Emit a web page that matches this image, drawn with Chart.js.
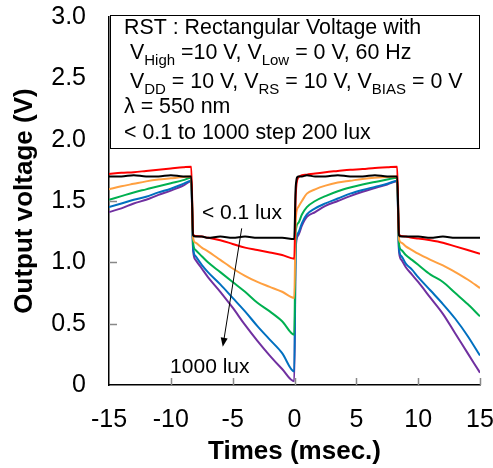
<!DOCTYPE html>
<html>
<head>
<meta charset="utf-8">
<script src="https://cdn.jsdelivr.net/npm/chart.js@4"></script>
<style>
  html, body { margin: 0; padding: 0; background: #fff; }
</style>
</head>
<body>
<canvas id="chart" width="493" height="468"></canvas>
<script>
"use strict";

// time axis (msec.) shared by every curve
const times = [-15, -14, -13, -12, -11, -10, -9, -8.35, -8.2, -8, -7.5, -7, -6, -5, -4, -3, -2, -1, -0.02,
  0.1, 0.3, 0.6, 1, 1.67, 2.5, 3.5, 4.5, 5.5, 6.5, 7.5, 8.3, 8.45, 8.65, 9, 9.5, 10, 11, 12, 13, 14, 15];

// output voltage (V), one list per illuminance
const luxDark = [1.70, 1.70, 1.71, 1.70, 1.70, 1.71, 1.70, 1.70, 1.22, 1.21, 1.21, 1.20, 1.21, 1.20, 1.21, 1.20, 1.20, 1.20, 1.19,
  1.62, 1.70, 1.70, 1.71, 1.70, 1.70, 1.71, 1.70, 1.70, 1.71, 1.70, 1.70, 1.22, 1.21, 1.21, 1.21, 1.21, 1.20, 1.21, 1.20, 1.20, 1.20];
const lux200 = [1.72, 1.73, 1.735, 1.745, 1.755, 1.765, 1.775, 1.78, 1.23, 1.215, 1.21, 1.20, 1.18, 1.15, 1.12, 1.10, 1.08, 1.06, 1.03,
  1.55, 1.69, 1.71, 1.715, 1.725, 1.735, 1.745, 1.755, 1.76, 1.77, 1.775, 1.78, 1.23, 1.215, 1.21, 1.20, 1.195, 1.18, 1.16, 1.13, 1.10, 1.07];
const lux400 = [1.595, 1.62, 1.64, 1.66, 1.675, 1.685, 1.695, 1.70, 1.20, 1.16, 1.12, 1.09, 1.02, 0.95, 0.89, 0.84, 0.80, 0.76, 0.71,
  1.35, 1.45, 1.50, 1.56, 1.595, 1.625, 1.65, 1.665, 1.68, 1.69, 1.695, 1.70, 1.19, 1.16, 1.13, 1.10, 1.07, 1.02, 0.975, 0.92, 0.86, 0.79];
const lux600 = [1.51, 1.54, 1.57, 1.595, 1.62, 1.645, 1.67, 1.69, 1.16, 1.10, 1.05, 1.00, 0.92, 0.84, 0.76, 0.67, 0.60, 0.52, 0.41,
  1.25, 1.32, 1.39, 1.45, 1.50, 1.54, 1.58, 1.61, 1.635, 1.655, 1.675, 1.69, 1.15, 1.10, 1.06, 1.02, 0.98, 0.90, 0.84, 0.75, 0.66, 0.56];
const lux800 = [1.45, 1.48, 1.51, 1.535, 1.57, 1.60, 1.64, 1.665, 1.12, 1.05, 0.98, 0.92, 0.82, 0.71, 0.60, 0.48, 0.37, 0.26, 0.11,
  1.15, 1.24, 1.32, 1.39, 1.44, 1.48, 1.52, 1.56, 1.59, 1.615, 1.64, 1.665, 1.11, 1.05, 0.99, 0.94, 0.88, 0.77, 0.66, 0.54, 0.40, 0.24];
const lux1000 = [1.41, 1.44, 1.48, 1.51, 1.55, 1.585, 1.625, 1.66, 1.10, 1.02, 0.95, 0.88, 0.76, 0.63, 0.49, 0.36, 0.24, 0.13, 0.03,
  1.12, 1.22, 1.30, 1.37, 1.41, 1.46, 1.50, 1.54, 1.575, 1.605, 1.635, 1.66, 1.09, 1.02, 0.96, 0.90, 0.84, 0.71, 0.58, 0.42, 0.26, 0.10];

const seriesList = [luxDark, lux200, lux400, lux600, lux800, lux1000];
const seriesNames = ["< 0.1 lux", "200 lux", "400 lux", "600 lux", "800 lux", "1000 lux"];
const seriesColors = ["#000000", "#ff0000", "#ffa040", "#00b050", "#0070c0", "#7030a0"];

const xTicks = [-15, -10, -5, 0, 5, 10, 15];
const yTicks = [0, 0.5, 1.0, 1.5, 2.0, 2.5, 3.0];

// condition box text: [text, isSubscript]
const noteLines = [
  [["RST : Rectangular Voltage with", 0]],
  [[" V", 0], ["High", 1], [" =10 V, V", 0], ["Low", 1], [" = 0 V, 60 Hz", 0]],
  [[" V", 0], ["DD", 1], [" = 10 V, V", 0], ["RS", 1], [" = 10 V, V", 0], ["BIAS", 1], [" = 0 V", 0]],
  [["λ = 550 nm", 0]],
  [["< 0.1 to 1000 step 200 lux", 0]]
];

// arrow labels in data units
const darkLabel = { text: "< 0.1 lux", x: -7.48, y: 1.40 };
const brightLabel = { text: "1000 lux", x: -10.06, y: 0.147 };
const arrowFrom = { x: -4.27, y: 1.277 };
const arrowTo = { x: -5.80, y: 0.312 };

const FONT = "'Liberation Sans', Arial, sans-serif";

const overlayPlugin = {
  id: "overlay",
  afterDatasetsDraw(chart) {
    const { ctx, chartArea, scales } = chart;
    const xs = scales.x;
    const ys = scales.y;

    // inward grey ticks
    ctx.save();
    ctx.strokeStyle = "#888";
    ctx.lineWidth = 1.5;
    ctx.beginPath();
    xTicks.slice(1).forEach((v) => {
      const px = Math.round(xs.getPixelForValue(v)) + 0.5;
      ctx.moveTo(px, chartArea.bottom);
      ctx.lineTo(px, chartArea.bottom - 7);
    });
    yTicks.slice(1).forEach((v) => {
      const py = Math.round(ys.getPixelForValue(v)) + 0.5;
      ctx.moveTo(chartArea.left, py);
      ctx.lineTo(chartArea.left + 8, py);
    });
    ctx.stroke();
    ctx.restore();

    // condition box
    const boxLeft = chartArea.left + 1;
    const boxTop = chartArea.top - 2;
    const boxRight = chartArea.right;
    const boxBottom = chartArea.top + 132;
    ctx.save();
    ctx.fillStyle = "#fff";
    ctx.fillRect(boxLeft, boxTop, boxRight - boxLeft, boxBottom - boxTop);
    ctx.strokeStyle = "#000";
    ctx.lineWidth = 1;
    ctx.strokeRect(boxLeft + 0.5, boxTop + 0.5, boxRight - boxLeft - 1, boxBottom - boxTop - 1);

    const lineY = [28, 53, 82, 107, 133];
    ctx.fillStyle = "#000";
    ctx.textBaseline = "middle";
    noteLines.forEach((parts, i) => {
      let cx = boxLeft + 14;
      parts.forEach(([txt, sub]) => {
        ctx.font = (sub ? "15px " : "21.4px ") + FONT;
        ctx.fillText(txt, cx, lineY[i] + (sub ? 8 : 0));
        cx += ctx.measureText(txt).width;
      });
    });

    // arrow labels
    ctx.font = "21px " + FONT;
    ctx.fillText(darkLabel.text, xs.getPixelForValue(darkLabel.x), ys.getPixelForValue(darkLabel.y));
    ctx.fillText(brightLabel.text, xs.getPixelForValue(brightLabel.x), ys.getPixelForValue(brightLabel.y));

    const x1 = xs.getPixelForValue(arrowFrom.x);
    const y1 = ys.getPixelForValue(arrowFrom.y);
    const x2 = xs.getPixelForValue(arrowTo.x);
    const y2 = ys.getPixelForValue(arrowTo.y);
    const ang = Math.atan2(y2 - y1, x2 - x1);
    ctx.strokeStyle = "#000";
    ctx.lineWidth = 1;
    ctx.beginPath();
    ctx.moveTo(x1, y1);
    ctx.lineTo(x2 - 6 * Math.cos(ang), y2 - 6 * Math.sin(ang));
    ctx.stroke();
    ctx.beginPath();
    ctx.moveTo(x2, y2);
    ctx.lineTo(x2 - 9 * Math.cos(ang) + 3.5 * Math.sin(ang), y2 - 9 * Math.sin(ang) - 3.5 * Math.cos(ang));
    ctx.lineTo(x2 - 9 * Math.cos(ang) - 3.5 * Math.sin(ang), y2 - 9 * Math.sin(ang) + 3.5 * Math.cos(ang));
    ctx.closePath();
    ctx.fill();
    ctx.restore();
  }
};

const datasets = seriesList.map((values, i) => ({
  label: seriesNames[i],
  data: times.map((t, k) => ({ x: t, y: values[k] })),
  borderColor: seriesColors[i],
  borderWidth: 2,
  pointRadius: 0,
  cubicInterpolationMode: "monotone",
  fill: false
}));

new Chart(document.getElementById("chart"), {
  type: "line",
  data: { datasets },
  plugins: [overlayPlugin],
  options: {
    responsive: false,
    animation: false,
    layout: { padding: { top: 17, right: 13, left: 0, bottom: 0 } },
    plugins: { legend: { display: false }, tooltip: { enabled: false } },
    scales: {
      x: {
        type: "linear",
        min: -15,
        max: 15,
        afterBuildTicks: (scale) => { scale.ticks = xTicks.map((v) => ({ value: v })); },
        afterFit: (scale) => {
          scale.height = 83;
          scale.paddingLeft = 0;
          scale.paddingRight = 0;
        },
        grid: { drawOnChartArea: false, drawTicks: false },
        border: { display: true, color: "#000", width: 1.5 },
        ticks: {
          color: "#000",
          padding: 20,
          maxRotation: 0,
          font: { family: FONT, size: 25 },
          callback: (v) => String(v)
        },
        title: {
          display: true,
          text: "Times (msec.)",
          color: "#000",
          padding: { top: 0, bottom: 1 },
          font: { family: FONT, size: 26, weight: "bold" }
        }
      },
      y: {
        type: "linear",
        min: 0,
        max: 3,
        afterBuildTicks: (scale) => { scale.ticks = yTicks.map((v) => ({ value: v })); },
        afterFit: (scale) => {
          scale.width = 109;
          scale.paddingTop = 0;
          scale.paddingBottom = 0;
        },
        grid: { drawOnChartArea: false, drawTicks: false },
        border: { display: true, color: "#000", width: 1.5 },
        ticks: {
          color: "#000",
          padding: 23,
          font: { family: FONT, size: 25 },
          callback: (v) => (v === 0 ? "0" : v.toFixed(1))
        },
        title: {
          display: true,
          text: "Output voltage (V)",
          color: "#000",
          padding: { top: 9, bottom: 0 },
          font: { family: FONT, size: 26, weight: "bold" }
        }
      }
    }
  }
});
</script>
</body>
</html>
